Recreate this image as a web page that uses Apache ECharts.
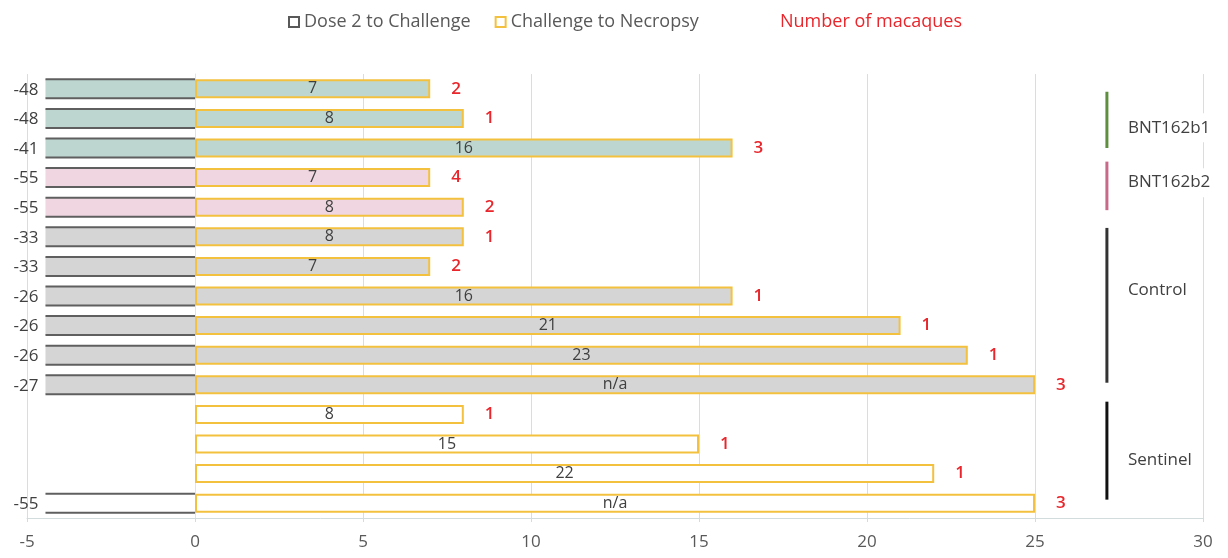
<!DOCTYPE html>
<html>
<head>
<meta charset="utf-8">
<script src="https://cdn.jsdelivr.net/npm/echarts@6/dist/echarts.min.js"></script>
<style>
  html, body { margin: 0; padding: 0; background: #fff; }
  #chart { width: 1228px; height: 558px; }
</style>
</head>
<body>
<div id="chart"></div>
<script>
// one row per bar pair, top to bottom
const rows = [0, 1, 2, 3, 4, 5, 6, 7, 8, 9, 10, 11, 12, 13, 14];
const dose2Days = [-48, -48, -41, -55, -55, -33, -33, -26, -26, -26, -27, null, null, null, -55];
const necropsyDays = [7, 8, 16, 7, 8, 8, 7, 16, 21, 23, 25, 8, 15, 22, 25];
const necropsyLabels = ['7', '8', '16', '7', '8', '8', '7', '16', '21', '23', 'n/a', '8', '15', '22', 'n/a'];
const macaques = [2, 1, 3, 4, 2, 1, 2, 1, 1, 1, 3, 1, 1, 1, 3];
const rowGroup = ['b1', 'b1', 'b1', 'b2', 'b2', 'ctl', 'ctl', 'ctl', 'ctl', 'ctl', 'ctl', 'sen', 'sen', 'sen', 'sen'];

const groupFill = { b1: '#bdd6d0', b2: '#efd6e0', ctl: '#d5d5d5', sen: '#ffffff' };
const groups = [
    { name: 'BNT162b1', color: '#5e8f3e', from: 0.1, to: 2.0, labelAt: 1.32 },
    { name: 'BNT162b2', color: '#c9698a', from: 2.46, to: 4.1, labelAt: 3.17 },
    { name: 'Control', color: '#333333', from: 4.7, to: 9.93, labelAt: 6.8 },
    { name: 'Sentinel', color: '#111111', from: 10.57, to: 13.88, labelAt: 12.53 }
];

// the dose-2 bars run far past the axis minimum, they are shown cut off here
const LEFT_STUB = -4.45;
const FONT = '"Open Sans", "Liberation Sans", sans-serif';

const chart = echarts.init(document.getElementById('chart'));

chart.setOption({
    animation: false,
    grid: { left: 27, right: 25, top: 74, bottom: 40 },
    legend: [
        {
            top: 8,
            left: 283,
            itemWidth: 10,
            itemHeight: 10,
            itemGap: 24,
            textStyle: { color: '#595959', fontSize: 18, fontFamily: FONT },
            data: [
                { name: 'Dose 2 to Challenge', icon: 'rect', itemStyle: { color: '#fff', borderColor: '#595959', borderWidth: 2 } },
                { name: 'Challenge to Necropsy', icon: 'rect', itemStyle: { color: '#fff', borderColor: '#f4c13f', borderWidth: 2 } }
            ]
        },
        {
            top: 8,
            left: 760,
            itemWidth: 10,
            itemHeight: 10,
            textStyle: { color: '#e8262b', fontSize: 18, fontFamily: FONT },
            data: [{ name: 'Number of macaques', icon: 'none' }]
        }
    ],
    xAxis: {
        type: 'value',
        min: -5,
        max: 30,
        interval: 5,
        axisLine: { show: true, lineStyle: { color: '#d3dcdc' } },
        axisTick: { show: true, length: 4, lineStyle: { color: '#d3dcdc' } },
        axisLabel: { color: '#595959', fontSize: 17, fontFamily: FONT, margin: 16 },
        splitLine: { show: true, lineStyle: { color: '#dcdcdc' } }
    },
    yAxis: {
        type: 'category',
        inverse: true,
        data: rows,
        axisLine: { show: true, lineStyle: { color: '#e3e3e3' } },
        axisTick: { show: false },
        axisLabel: { show: false }
    },
    series: [
        {
            name: 'Dose 2 to Challenge',
            type: 'custom',
            data: rows.filter(i => dose2Days[i] !== null).map(i => [dose2Days[i], i]),
            renderItem: function (params, api) {
                const v = api.value(0);
                const row = api.value(1);
                const p0 = api.coord([Math.max(v, LEFT_STUB), row]);
                const p1 = api.coord([0, row]);
                const h = 19;
                const y = p0[1] - h / 2;
                return {
                    type: 'group',
                    children: [
                        { type: 'rect', shape: { x: p0[0], y: y, width: p1[0] - p0[0], height: h }, style: { fill: groupFill[rowGroup[row]] } },
                        { type: 'line', shape: { x1: p0[0], y1: y, x2: p1[0], y2: y }, style: { stroke: '#5f5f5f', lineWidth: 2 } },
                        { type: 'line', shape: { x1: p0[0], y1: y + h, x2: p1[0], y2: y + h }, style: { stroke: '#5f5f5f', lineWidth: 2 } },
                        {
                            type: 'text',
                            style: {
                                text: String(v), x: p0[0] - 7, y: p0[1] + 1,
                                align: 'right', verticalAlign: 'middle',
                                fill: '#404040', font: '17px ' + FONT
                            }
                        }
                    ]
                };
            },
            z: 3
        },
        {
            name: 'Challenge to Necropsy',
            type: 'bar',
            barWidth: 19,
            data: rows.map(i => ({
                value: necropsyDays[i],
                itemStyle: { color: groupFill[rowGroup[i]], borderColor: '#f4c13f', borderWidth: 2 }
            })),
            label: {
                show: true,
                position: 'inside',
                color: '#404040',
                fontSize: 16,
                fontFamily: FONT,
                formatter: p => necropsyLabels[p.dataIndex]
            },
            z: 3
        },
        {
            name: 'Number of macaques',
            type: 'bar',
            barWidth: 19,
            barGap: '-100%',
            data: necropsyDays,
            itemStyle: { color: 'rgba(0,0,0,0)' },
            label: {
                show: true,
                position: 'right',
                distance: 21,
                color: '#e8262b',
                fontSize: 17,
                fontWeight: 600,
                fontFamily: FONT,
                formatter: p => String(macaques[p.dataIndex])
            },
            z: 4
        }
    ]
});

// group brackets on the right
function rowY(r) {
    const y0 = chart.convertToPixel({ xAxisIndex: 0, yAxisIndex: 0 }, [0, 0])[1];
    const y1 = chart.convertToPixel({ xAxisIndex: 0, yAxisIndex: 0 }, [0, 1])[1];
    return y0 + r * (y1 - y0);
}
const lineX = chart.convertToPixel({ xAxisIndex: 0, yAxisIndex: 0 }, [27.14, 0])[0];
const elements = [];
groups.forEach(g => {
    elements.push({
        type: 'line',
        shape: { x1: lineX, y1: rowY(g.from), x2: lineX, y2: rowY(g.to) },
        style: { stroke: g.color, lineWidth: 3 },
        z: 10
    });
    elements.push({
        type: 'text',
        style: {
            text: g.name, x: lineX + 19, y: rowY(g.labelAt),
            verticalAlign: 'middle', fill: '#404040', font: '17px ' + FONT,
            backgroundColor: '#fff', padding: [6, 2]
        },
        z: 10
    });
});
chart.setOption({ graphic: { elements: elements } });
</script>
</body>
</html>
